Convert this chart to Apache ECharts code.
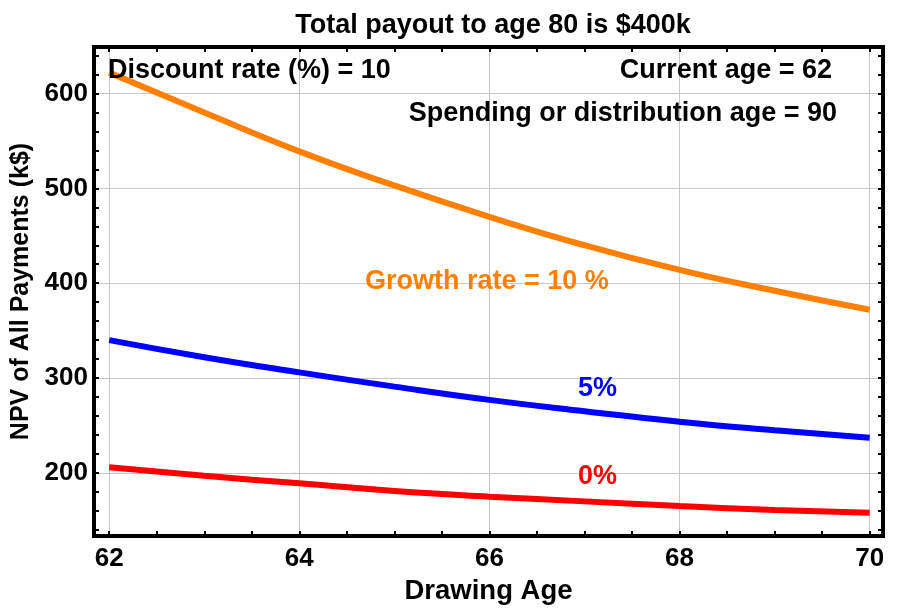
<!DOCTYPE html>
<html><head><meta charset="utf-8">
<script src="https://cdn.jsdelivr.net/npm/echarts@6/dist/echarts.min.js"></script>
<style>html,body{margin:0;padding:0;background:#fff}#c{width:899px;height:616px}</style>
</head><body><div id="c"></div>
<script>
const ages = [62, 63, 64, 65, 66, 67, 68, 69, 70];
const growth10 = [622, 580, 539, 503, 470, 440, 414, 392, 372];
const growth5 = [340, 322, 306, 291, 277, 265, 254, 245, 237];
const growth0 = [206, 197, 189, 181, 175, 170, 165, 161, 158];
const xTickLabels = [62, 64, 66, 68, 70];
const xMinorTicks = [62, 62.5, 63, 63.5, 64, 64.5, 65, 65.5, 66, 66.5, 67, 67.5, 68, 68.5, 69, 69.5, 70];
const yTickLabels = [200, 300, 400, 500, 600];
const yMinorTicks = [140, 160, 180, 200, 220, 240, 260, 280, 300, 320, 340, 360, 380, 400, 420, 440, 460, 480, 500, 520, 540, 560, 580, 600, 620, 640];
const titleText = 'Total payout to age 80 is $400k';
const xName = 'Drawing Age';
const yName = 'NPV of All Payments (k$)';
const notes = ['Discount rate (%) = 10', 'Current age = 62', 'Spending or distribution age = 90', 'Growth rate = 10 %', '5%', '0%'];

const FONT = '"Liberation Sans", Arial, sans-serif';
const xMin = 61.84, xMax = 70.14, yMin = 133.5, yMax = 649;
const chart = echarts.init(document.getElementById('c'), null, {renderer: 'canvas'});
const pair = (xs, ys) => xs.map((x, i) => [x, ys[i]]);
const baseX = {type: 'value', min: xMin, max: xMax, axisLine: {show: false}, axisLabel: {show: false}, axisTick: {show: false}, splitLine: {show: false}};
const baseY = {type: 'value', min: yMin, max: yMax, axisLine: {show: false}, axisLabel: {show: false}, axisTick: {show: false}, splitLine: {show: false}};
const tickStyle = {show: true, inside: true, length: 5, lineStyle: {color: '#000', width: 2}};
const NF = 'bold 27px ' + FONT;
chart.setOption({
  animation: false,
  backgroundColor: '#fff',
  title: {text: titleText, left: 488, top: 7, textAlign: 'center',
    textStyle: {fontFamily: FONT, fontWeight: 'bold', fontSize: 27, color: '#000'}},
  grid: {left: 94, right: 16, top: 47, bottom: 80, show: true, borderColor: '#000', borderWidth: 4, backgroundColor: 'transparent'},
  xAxis: [
    Object.assign({}, baseX, {position: 'bottom', name: xName, nameLocation: 'middle', nameGap: 41,
      nameTextStyle: {fontFamily: FONT, fontWeight: 'bold', fontSize: 27.5, color: '#000'},
      axisLabel: {show: true, customValues: xTickLabels, margin: 10, fontFamily: FONT, fontWeight: 'bold', fontSize: 26, color: '#000'},
      axisTick: Object.assign({customValues: xMinorTicks}, tickStyle)}),
    Object.assign({}, baseX, {position: 'top', axisTick: Object.assign({customValues: xMinorTicks}, tickStyle)}),
    Object.assign({}, baseX, {position: 'bottom', axisTick: {show: false, customValues: xTickLabels},
      splitLine: {show: true, lineStyle: {color: '#c8c8c8', width: 1}}})
  ],
  yAxis: [
    Object.assign({}, baseY, {position: 'left', name: yName, nameLocation: 'middle', nameGap: 56, nameRotate: 90,
      nameTextStyle: {fontFamily: FONT, fontWeight: 'bold', fontSize: 25, color: '#000'},
      axisLabel: {show: true, customValues: yTickLabels, margin: 6, fontFamily: FONT, fontWeight: 'bold', fontSize: 26, color: '#000'},
      axisTick: Object.assign({customValues: yMinorTicks}, tickStyle)}),
    Object.assign({}, baseY, {position: 'right', axisTick: Object.assign({customValues: yMinorTicks}, tickStyle)}),
    Object.assign({}, baseY, {position: 'left', axisTick: {show: false, customValues: yTickLabels},
      splitLine: {show: true, lineStyle: {color: '#c8c8c8', width: 1}}})
  ],
  series: [
    {type: 'line', data: pair(ages, growth10), smooth: true, symbol: 'none', lineStyle: {color: '#FF8000', width: 6}, z: 3},
    {type: 'line', data: pair(ages, growth5), smooth: true, symbol: 'none', lineStyle: {color: '#0000FF', width: 6}, z: 3},
    {type: 'line', data: pair(ages, growth0), smooth: true, symbol: 'none', lineStyle: {color: '#FF0000', width: 6}, z: 3}
  ],
  graphic: [
    {type: 'text', left: 108, top: 57, z: 10, style: {text: notes[0], font: NF, fill: '#000'}},
    {type: 'text', right: 899 - 832, top: 57, z: 10, style: {text: notes[1], font: NF, fill: '#000'}},
    {type: 'text', right: 899 - 837, top: 100, z: 10, style: {text: notes[2], font: NF, fill: '#000'}},
    {type: 'text', left: 365, top: 268, z: 10, style: {text: notes[3], font: NF, fill: '#FF8000'}},
    {type: 'text', left: 578, top: 375, z: 10, style: {text: notes[4], font: NF, fill: '#0000FF'}},
    {type: 'text', left: 578, top: 463, z: 10, style: {text: notes[5], font: NF, fill: '#FF0000'}}
  ]
});
</script></body></html>
